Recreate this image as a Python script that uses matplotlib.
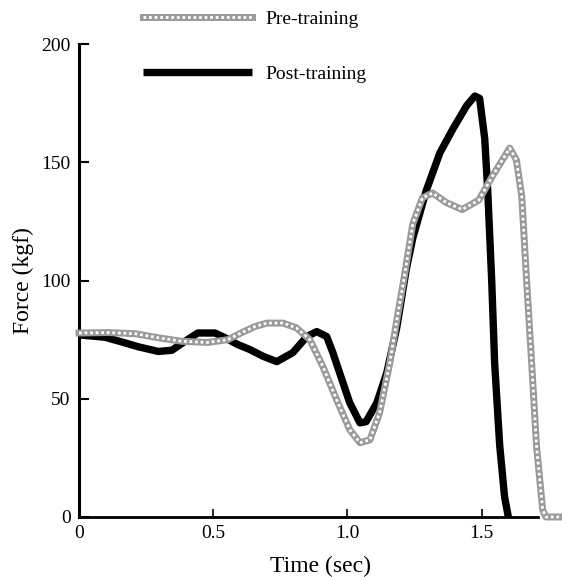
import numpy as np
import matplotlib
matplotlib.use("Agg")
import matplotlib.pyplot as plt

# force curves (time in sec, force in kgf)
pre_t = [0, 0.108, 0.21, 0.295, 0.383, 0.48, 0.555, 0.607, 0.655, 0.70, 0.76,
         0.81, 0.86, 0.909, 0.96, 1.009, 1.047, 1.084, 1.12, 1.158, 1.19, 1.21,
         1.244, 1.28, 1.318, 1.368, 1.428, 1.49, 1.54, 1.605, 1.63, 1.65, 1.668,
         1.687, 1.705, 1.728, 1.74, 1.80]
pre_f = [77.8, 78, 77.5, 75.8, 74.3, 73.8, 75, 78, 80.5, 82, 82,
         80, 75, 63.6, 49.6, 36.9, 31.4, 32.6, 44, 65, 87, 100,
         124, 135, 137, 133, 130, 134, 144, 156, 151, 135.6, 100,
         65, 30, 3, 0, 0]

post_t = [0, 0.097, 0.16, 0.22, 0.295, 0.346, 0.395, 0.443, 0.507, 0.544, 0.592,
          0.637, 0.685, 0.737, 0.797, 0.849, 0.886, 0.923, 0.946, 0.98, 1.009,
          1.047, 1.07, 1.11, 1.147, 1.184, 1.22, 1.244, 1.294, 1.345, 1.393,
          1.445, 1.475, 1.493, 1.512, 1.523, 1.538, 1.549, 1.568, 1.586, 1.60]
post_f = [77, 76, 74, 72, 70, 70.5, 74.3, 77.8, 77.8, 75.8, 72.9,
          70.8, 68, 65.7, 69.5, 76.3, 78.4, 76.3, 69.5, 58, 48.3,
          39.8, 40.3, 48.3, 61, 80, 105, 118, 138, 154, 164,
          174, 178, 177, 160, 138.5, 100, 65, 30, 8.5, 0]

xticks = [0, 0.5, 1.0, 1.5]
xticklabels = ["0", "0.5", "1.0", "1.5"]
yticks = [0, 50, 100, 150, 200]

plt.rcParams['font.family'] = ['Liberation Serif', 'DejaVu Serif']

fig = plt.figure(figsize=(5.62, 5.77), dpi=100)
ax = fig.add_axes([0.1406, 0.104, 0.8594, 0.8197])

# post-training: thick black
l_post, = ax.plot(post_t, post_f, color='black', lw=5.3, solid_joinstyle='round',
                  solid_capstyle='butt', clip_on=False, zorder=3)
# pre-training: speckled grey (grey base + white dots)
l_pre1, = ax.plot(pre_t, pre_f, color='#9a9a9a', lw=5, solid_joinstyle='round',
                  clip_on=False, zorder=4)
l_pre2, = ax.plot(pre_t, pre_f, color='white', lw=2.0, ls=(0, (1, 1)),
                  clip_on=False, zorder=5)

ax.set_xlim(0, 1.80)
ax.set_ylim(0, 200)
ax.spines['top'].set_visible(False)
ax.spines['right'].set_visible(False)
ax.spines['left'].set_linewidth(2.2)
ax.spines['bottom'].set_linewidth(2.0)
ax.spines['bottom'].set_bounds(0, 1.71)
ax.spines['left'].set_bounds(0, 200)

ax.set_xticks(xticks)
ax.set_xticklabels(xticklabels)
ax.set_yticks(yticks)
ax.tick_params(axis='y', direction='in', length=7, width=1.5, pad=6, labelsize=14)
ax.tick_params(axis='x', direction='in', length=6, width=1.2, pad=6, labelsize=14)

ax.set_xlabel("Time (sec)", fontsize=17, labelpad=10)
ax.set_ylabel("Force (kgf)", fontsize=17, labelpad=5)

leg = ax.legend([(l_pre1, l_pre2), l_post], ["Pre-training", "Post-training"],
                loc='upper left', bbox_to_anchor=(0.254, 0.982),
                bbox_transform=fig.transFigure, frameon=False, fontsize=14,
                handlelength=5.6, handletextpad=0.7, labelspacing=1.9,
                borderpad=0, borderaxespad=0)

fig.savefig("out.png", dpi=100)
